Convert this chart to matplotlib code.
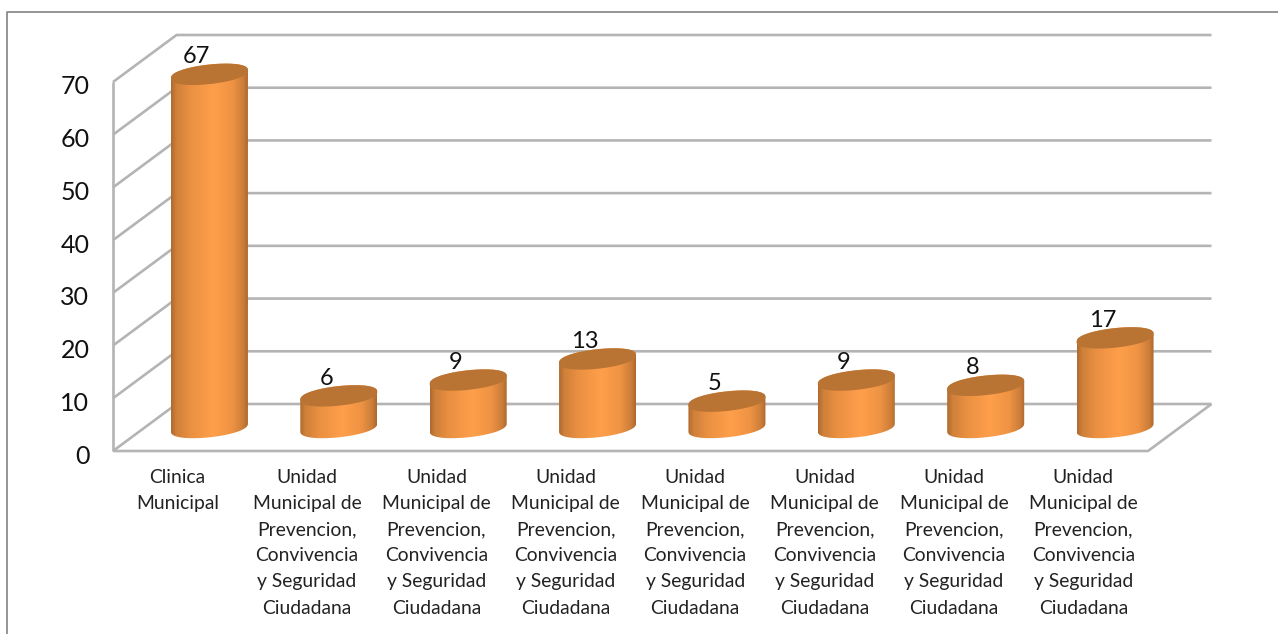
import numpy as np
import matplotlib
matplotlib.use("Agg")
import matplotlib.pyplot as plt
from matplotlib.colors import LinearSegmentedColormap
from matplotlib.lines import Line2D
from matplotlib.patches import Polygon
from matplotlib.transforms import ScaledTranslation

categories = [
    "Clinica\nMunicipal",
    "Unidad\nMunicipal de\nPrevencion,\nConvivencia\ny Seguridad\nCiudadana",
    "Unidad\nMunicipal de\nPrevencion,\nConvivencia\ny Seguridad\nCiudadana",
    "Unidad\nMunicipal de\nPrevencion,\nConvivencia\ny Seguridad\nCiudadana",
    "Unidad\nMunicipal de\nPrevencion,\nConvivencia\ny Seguridad\nCiudadana",
    "Unidad\nMunicipal de\nPrevencion,\nConvivencia\ny Seguridad\nCiudadana",
    "Unidad\nMunicipal de\nPrevencion,\nConvivencia\ny Seguridad\nCiudadana",
    "Unidad\nMunicipal de\nPrevencion,\nConvivencia\ny Seguridad\nCiudadana",
]
values = [67, 6, 9, 13, 5, 9, 8, 17]
y_ticks = [0, 10, 20, 30, 40, 50, 60, 70]

W, H = 1278, 634
FONT = "Lato"
plt.rcParams["font.family"] = [FONT, "DejaVu Sans"]

fig = plt.figure(figsize=(W / 100, H / 100), dpi=100, facecolor="white")
L, R, B, T = 113, 1148, 451, 82
ax = fig.add_axes([L / W, 1 - B / H, (R - L) / W, (B - T) / H])
ax.set_xlim(0, len(values))
ax.set_ylim(0, 70)
PPX = (R - L) / len(values)
PPY = (B - T) / 70
DX, DY = 63.5 / PPX, 47 / PPY   # depth of the 3-D box, in data units

for s in ax.spines.values():
    s.set_visible(False)
ax.set_yticks(y_ticks)
ax.set_yticklabels([str(v) for v in y_ticks], fontsize=18, color="#111111")
ax.set_xticks(np.arange(len(values)) + 0.5)
ax.set_xticklabels(categories, fontsize=13.9, color="#222222", linespacing=1.65)
ax.tick_params(axis="both", length=0)
ax.tick_params(axis="y", pad=17)
ax.tick_params(axis="x", pad=13)
shift = ScaledTranslation(0, -3 / 100, fig.dpi_scale_trans)
for lab in ax.get_yticklabels():
    lab.set_transform(lab.get_transform() + shift)

GRID = "#b4b4b4"
LW = 1.9
nx = len(values)
kw = dict(color=GRID, lw=LW, clip_on=False, zorder=1, solid_capstyle="butt")
for v in y_ticks:
    ax.plot([0, DX, nx + DX], [v, v + DY, v + DY], **kw)
ax.plot([0, 0], [0, 70], **kw)
ax.plot([0, nx, nx + DX], [0, 0, DY], **kw)

cmap = LinearSegmentedColormap.from_list(
    "cyl",
    [(0, "#b06a2e"), (0.07, "#cf803a"), (0.25, "#ea9042"), (0.55, "#ff9f4b"),
     (0.80, "#ee9343"), (0.94, "#cb7d39"), (1, "#ad682d")],
)
grad = np.linspace(0, 1, 256).reshape(1, -1)
RX, RY, SK = 38.5, 9.8, 4.0   # ellipse half-axes and tilt, in pixels
t = np.linspace(0, 2 * np.pi, 160)
POW = 0.85                     # fuller than a true ellipse


def ell(cx, cy, th):
    s = np.sign(np.sin(th)) * np.abs(np.sin(th)) ** POW
    return cx + RX * np.cos(th) / PPX, cy + (RY * s + SK * np.cos(th)) / PPY


for i, v in enumerate(values):
    cx = i + 0.5 + DX / 2
    base = DY / 2
    top = base + v
    xb, yb = ell(cx, base, np.linspace(np.pi, 2 * np.pi, 60))
    xt, yt = ell(cx, top, np.linspace(0, np.pi, 60))
    verts = np.column_stack([np.r_[xb, xt], np.r_[yb, yt]])
    patch = Polygon(verts, closed=True, fc="none", ec="none", transform=ax.transData)
    ax.add_patch(patch)
    im = ax.imshow(grad, cmap=cmap, aspect="auto", interpolation="bilinear", zorder=3,
                   extent=(cx - RX / PPX, cx + RX / PPX, base - 3, top + 3))
    im.set_clip_box(fig.bbox)
    im.set_clip_path(patch)
    xe, ye = ell(cx, top, t)
    ax.fill(xe, ye, fc="#b97434", ec="none", zorder=4, clip_on=False)
    ax.text(cx - 12.5 / PPX, top + 17.5 / PPY, str(v), fontsize=17, color="#111111",
            ha="center", va="center", zorder=5, clip_on=False)

ax.set_xlim(0, nx)
ax.set_ylim(0, 70)

FRAME = "#8c8c8c"
fig.add_artist(Line2D([6.5 / W, 6.5 / W, 1], [0, 1 - 11.5 / H, 1 - 11.5 / H],
                      color=FRAME, lw=1.3, transform=fig.transFigure))

fig.savefig("out.png", dpi=100, facecolor="white")
